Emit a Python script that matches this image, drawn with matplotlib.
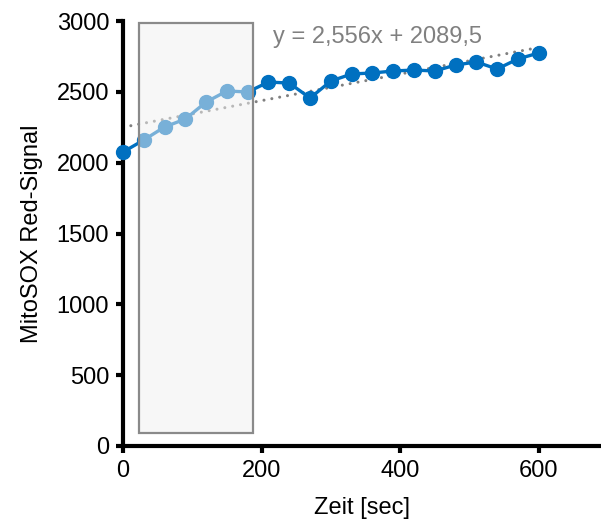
import numpy as np
import matplotlib
matplotlib.use("Agg")
import matplotlib.pyplot as plt
from matplotlib.patches import Rectangle

plt.rcParams['font.family'] = ['Liberation Sans', 'DejaVu Sans']

# Measurement times (s) and MitoSOX signal
time_s = [0, 30, 60, 90, 120, 150, 180, 210, 240, 270, 300,
          330, 360, 390, 420, 450, 480, 510, 540, 570, 600]
signal = [2075, 2160, 2252, 2308, 2428, 2506, 2499, 2569, 2562, 2456, 2576,
          2626, 2633, 2647, 2654, 2647, 2689, 2711, 2661, 2732, 2774]
x_ticks = [0, 200, 400, 600]
y_ticks = [0, 500, 1000, 1500, 2000, 2500, 3000]
fit_label = "y = 2,556x + 2089,5"
# Highlighted stimulation window (time range, signal range)
window_t = (23, 188)
window_y = (92, 2986)

fig = plt.figure(figsize=(6.01, 5.24), dpi=100)
ax = fig.add_axes([123 / 601, 78 / 524, 478 / 601, 425 / 524])

blue = '#0070C0'
ax.plot(time_s, signal, color=blue, lw=2.4, marker='o', markersize=10,
        zorder=3, clip_on=False)

# Linear trend line
t = np.array(time_s, dtype=float)
slope, intercept = np.polyfit(t, np.array(signal, dtype=float), 1)
ax.plot([t[0], t[-1]], [intercept + slope * t[0], intercept + slope * t[-1]],
        color='#808080', lw=2.2, linestyle=(0, (0.01, 2.6)),
        dash_capstyle='round', zorder=2)

# Translucent window overlay
ax.add_patch(Rectangle((window_t[0], window_y[0]), window_t[1] - window_t[0],
                       window_y[1] - window_y[0],
                       facecolor=(0.94, 0.94, 0.94, 0.5), edgecolor='none',
                       zorder=4))
ax.add_patch(Rectangle((window_t[0], window_y[0]), window_t[1] - window_t[0],
                       window_y[1] - window_y[0],
                       facecolor='none', edgecolor='#8a8a8a', lw=1.6,
                       zorder=5))

ax.text(216, 2890, fit_label, color='#808080',
        fontsize=17, va='center', ha='left', zorder=6)

ax.set_xlim(0, 690)
ax.set_ylim(0, 3000)
ax.set_xticks(x_ticks)
ax.set_yticks(y_ticks)
for s in ('top', 'right'):
    ax.spines[s].set_visible(False)
for s in ('left', 'bottom'):
    ax.spines[s].set_linewidth(3)
ax.tick_params(axis='both', direction='out', length=5, width=3,
               labelsize=17, pad=5)
ax.set_xlabel('Zeit [sec]', fontsize=17, labelpad=11)
ax.set_ylabel('MitoSOX Red-Signal', fontsize=17, labelpad=10)

fig.savefig('out.png', dpi=100)
